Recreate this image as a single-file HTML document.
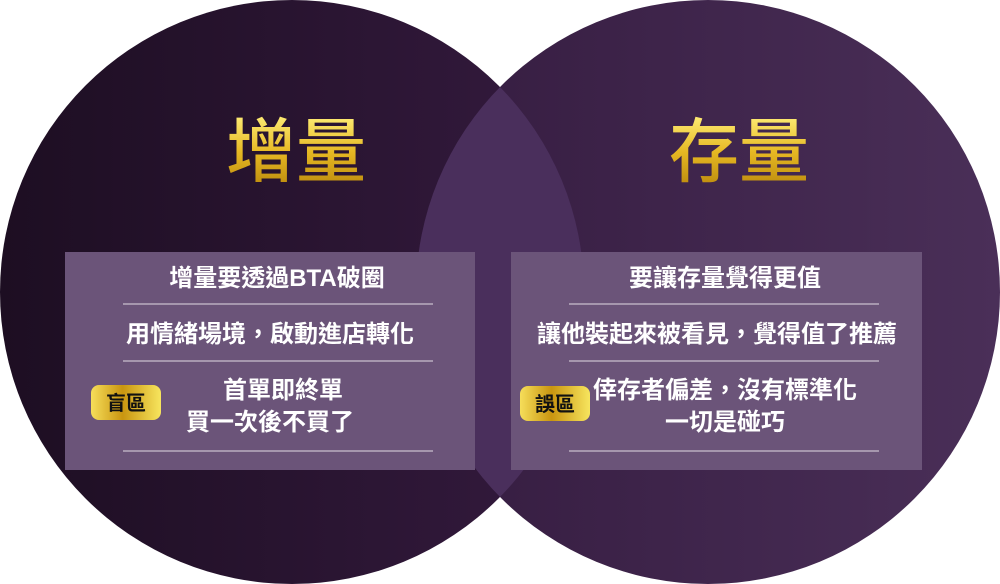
<!DOCTYPE html>
<html><head><meta charset="utf-8"><style>
html,body{margin:0;padding:0;background:#fff;}
svg{display:block}
text{font-family:"Liberation Sans","Noto Sans CJK TC",sans-serif;}
</style></head><body>
<svg width="1000" height="584" viewBox="0 0 1000 584" xmlns="http://www.w3.org/2000/svg">
<defs>
<linearGradient id="gl" x1="0" x2="1" y1="0" y2="0"><stop offset="0" stop-color="#1d0e22"/><stop offset="1" stop-color="#341a3e"/></linearGradient>
<linearGradient id="gr" x1="0" x2="1" y1="0" y2="0"><stop offset="0" stop-color="#351c40"/><stop offset="1" stop-color="#4a2f58"/></linearGradient>
<linearGradient id="gold" x1="0" x2="0" y1="0" y2="1"><stop offset="0" stop-color="#fff07a"/><stop offset="0.5" stop-color="#e6b823"/><stop offset="1" stop-color="#b8860b"/></linearGradient>
<linearGradient id="badge" x1="0" x2="1" y1="0" y2="0"><stop offset="0" stop-color="#f6de5a"/><stop offset="0.45" stop-color="#c99510"/><stop offset="1" stop-color="#f7e55e"/></linearGradient>
<clipPath id="cl"><circle cx="292" cy="292" r="292"/></clipPath>
</defs>
<circle cx="292" cy="292" r="292" fill="url(#gl)"/>
<circle cx="708" cy="292" r="292" fill="url(#gr)"/>
<circle cx="708" cy="292" r="292" fill="#4a2f5c" clip-path="url(#cl)"/>
<text x="296" y="176" font-size="70" font-weight="500" fill="url(#gold)" text-anchor="middle">增量</text>
<text x="739" y="176" font-size="70" font-weight="500" fill="url(#gold)" text-anchor="middle">存量</text>
<rect x="65" y="252" width="410" height="218" fill="#6b5479"/>
<rect x="511" y="252" width="411" height="218" fill="#6b5479"/>
<g stroke="#b9adc0" stroke-width="1.5">
<line x1="123" y1="304" x2="433" y2="304"/><line x1="123" y1="361" x2="433" y2="361"/><line x1="123" y1="451" x2="433" y2="451"/>
<line x1="569" y1="304" x2="879" y2="304"/><line x1="569" y1="361" x2="879" y2="361"/><line x1="569" y1="451" x2="879" y2="451"/>
</g>
<g fill="#fff" font-size="24" font-weight="bold" text-anchor="middle">
<text x="277" y="286">增量要透過BTA破圈</text>
<text x="270" y="342">用情緒場境，啟動進店轉化</text>
<text x="283" y="398">首單即終單</text>
<text x="270" y="430">買一次後不買了</text>
<text x="725" y="286">要讓存量覺得更值</text>
<text x="717" y="342">讓他裝起來被看見，覺得值了推薦</text>
<text x="725" y="398">倖存者偏差，沒有標準化</text>
<text x="725" y="430">一切是碰巧</text>
</g>
<rect x="91" y="385" width="70" height="35" rx="8" fill="url(#badge)"/>
<rect x="520" y="386" width="70" height="35" rx="8" fill="url(#badge)"/>
<g fill="#111" font-size="20" font-weight="bold" text-anchor="middle">
<text x="126" y="410">盲區</text>
<text x="555" y="411">誤區</text>
</g>
</svg>
</body></html>
